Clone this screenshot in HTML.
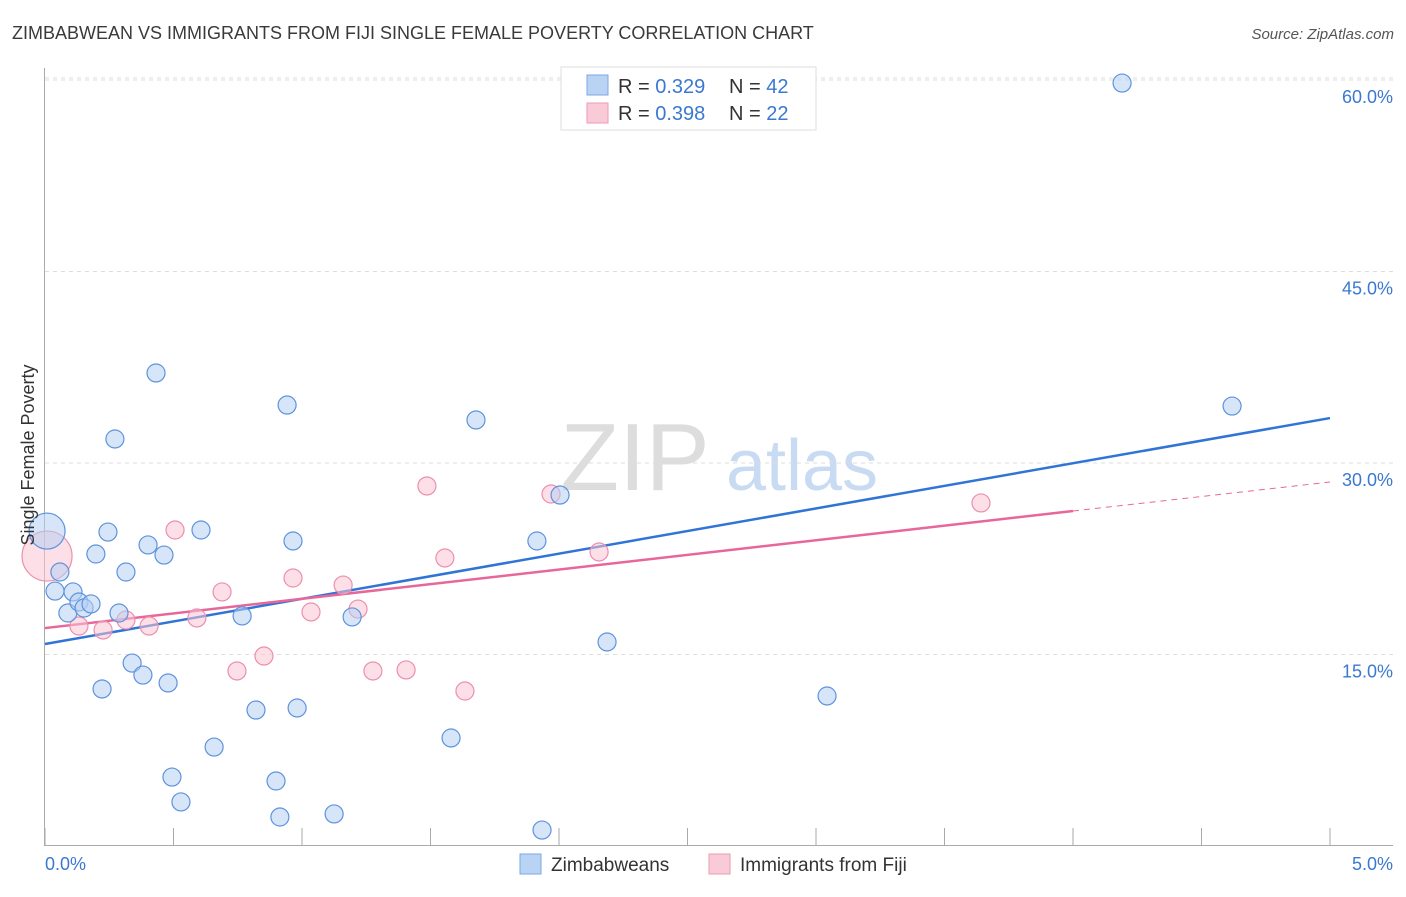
<!DOCTYPE html>
<html><head><meta charset="utf-8"><style>
body{margin:0;background:#fff;font-family:"Liberation Sans",sans-serif;}
svg text{font-family:"Liberation Sans",sans-serif;}
</style></head><body>
<svg id="chart" width="1406" height="892" xmlns="http://www.w3.org/2000/svg">
<text x="12" y="39" font-size="18" fill="#3a3a3a">ZIMBABWEAN VS IMMIGRANTS FROM FIJI SINGLE FEMALE POVERTY CORRELATION CHART</text>
<text x="1394" y="39" font-size="15" fill="#555" font-style="italic" text-anchor="end">Source: ZipAtlas.com</text>
<g>
<text x="635" y="490" font-size="96" fill="#ddd" font-family="Liberation Serif" text-anchor="middle">ZIP</text>
<text x="802" y="490" font-size="72" fill="#c8dbf2" text-anchor="middle">atlas</text>
</g>
<g id="grid"></g>
<g id="axes"></g>
<g id="lines"></g>
<g id="points"></g>
<text transform="translate(34,455) rotate(-90)" font-size="18" fill="#333" text-anchor="middle">Single Female Poverty</text>
<text x="45" y="870" font-size="18" fill="#3b78d0">0.0%</text>
<text x="1393" y="870" font-size="18" fill="#3b78d0" text-anchor="end">5.0%</text>
<g>
<rect x="561" y="67" width="255" height="63" fill="#fff" stroke="#ddd"/>
<rect x="587" y="75" width="21" height="20" fill="#b9d3f5" stroke="#7aa7e6"/>
<text x="618" y="93" font-size="20" fill="#333">R = <tspan fill="#3b78d0">0.329</tspan></text>
<text x="729" y="93" font-size="20" fill="#333">N = <tspan fill="#3b78d0">42</tspan></text>
<rect x="587" y="103" width="21" height="20" fill="#f9cad8" stroke="#ee9ab4"/>
<text x="618" y="120" font-size="20" fill="#333">R = <tspan fill="#3b78d0">0.398</tspan></text>
<text x="729" y="120" font-size="20" fill="#333">N = <tspan fill="#3b78d0">22</tspan></text>
</g>
<g>
<rect x="520" y="854" width="21" height="20" fill="#b9d3f5" stroke="#7aa7e6"/>
<text x="551" y="871" font-size="19" fill="#333">Zimbabweans</text>
<rect x="709" y="854" width="21" height="20" fill="#f9cad8" stroke="#ee9ab4"/>
<text x="740" y="871" font-size="19" fill="#333">Immigrants from Fiji</text>
</g>
</svg>
<script>
const yTicks=[15,30,45,60];
const yTickLabels=["15.0%","30.0%","45.0%","60.0%"];
const xTicks=[0,0.5,1,1.5,2,2.5,3,3.5,4,4.5,5];
const blueX=[0.008,0.058,0.039,0.109,0.089,0.132,0.152,0.179,0.198,0.245,0.272,0.288,0.315,0.339,0.381,0.401,0.432,0.463,0.479,0.222,0.494,0.529,0.607,0.658,0.767,0.821,0.899,0.914,0.942,0.965,0.981,1.125,1.195,1.580,1.677,1.914,1.934,2.004,2.187,3.043,4.191,4.619];
const blueY=[24.67,21.46,19.97,19.9,18.25,19.11,18.64,18.96,22.87,24.59,31.88,18.25,21.46,14.33,13.39,23.58,37.05,22.79,12.77,12.30,5.40,3.45,24.75,7.75,18.02,10.65,5.09,2.27,34.54,23.89,10.81,2.51,17.94,8.46,33.37,23.89,1.25,27.49,15.98,11.75,59.76,34.46];
const pinkX=[0.008,0.132,0.226,0.315,0.405,0.506,0.591,0.689,0.747,0.852,0.965,1.035,1.160,1.218,1.276,1.405,1.486,1.556,1.634,1.969,2.156,3.642];
const pinkY=[22.71,17.23,16.92,17.70,17.23,24.75,17.86,19.90,13.71,14.88,20.99,18.33,20.44,18.56,13.71,13.79,28.20,22.56,12.14,27.57,23.03,26.87];
const blueTrend=[[0,15.82],[5,33.52]];
const pinkTrend=[[0,17.07],[4,26.24]];
const pinkTrendExt=[[4,26.24],[5,28.51]];
const NS="http://www.w3.org/2000/svg";
const sx=v=>45+v/5*1285;
const sy=v=>846-v*12.767;
function mk(tag,attrs,parent){const e=document.createElementNS(NS,tag);for(const k in attrs)e.setAttribute(k,attrs[k]);parent.appendChild(e);return e;}
const gridG=document.getElementById('grid'),axesG=document.getElementById('axes'),linesG=document.getElementById('lines'),ptsG=document.getElementById('points');
yTicks.forEach((t,i)=>{
 const l=mk('line',{x1:45,x2:1393,y1:sy(t),y2:sy(t),stroke:'#ddd','stroke-dasharray':'4,4'},gridG);
 
 
 const tx=mk('text',{x:1393,y:sy(t)+23,'font-size':18,fill:'#3b78d0','text-anchor':'end'},gridG);
 tx.textContent=yTickLabels[i];
 
 
});
const topGrid=mk('line',{x1:45,x2:1393,y1:78,y2:78,stroke:'#ddd','stroke-dasharray':'4,4'},gridG);


const ya=mk('line',{x1:44.5,x2:44.5,y1:68,y2:846,stroke:'#aaa'},axesG);


const xa=mk('line',{x1:44,x2:1393,y1:845.5,y2:845.5,stroke:'#aaa'},axesG);


xTicks.forEach(t=>{
 const l=mk('line',{x1:sx(t),x2:sx(t),y1:828,y2:846,stroke:'#aaa'},axesG);
 
 
});
function trend(seg,color,name,dash){
 const l=mk('line',{x1:sx(seg[0][0]),y1:sy(seg[0][1]),x2:sx(seg[1][0]),y2:sy(seg[1][1]),stroke:color,'stroke-width':dash?1:2.5},linesG);
 if(dash)l.setAttribute('stroke-dasharray','6,5');
 
 
}
function dots(xs,ys,fill,stroke,name){
 xs.forEach((x,i)=>{
  const r=i===0?(name==='zimbabwean-point'?18:25):9;
  const c=mk('circle',{cx:sx(x),cy:sy(ys[i]),r:r,fill:fill,'fill-opacity':0.55,stroke:stroke,'stroke-width':1.2},ptsG);
  
  
 });
}
dots(pinkX,pinkY,'#f9c4d4','#ec8fae','fiji-point');
dots(blueX,blueY,'#b6d0f3','#5e93dd','zimbabwean-point');
trend(blueTrend,'#2f74d6','zimbabwean-trend-line');
trend(pinkTrend,'#e8679a','fiji-trend-line');
trend(pinkTrendExt,'#e8679a','fiji-trend-extension',true);
</script>
</body></html>
